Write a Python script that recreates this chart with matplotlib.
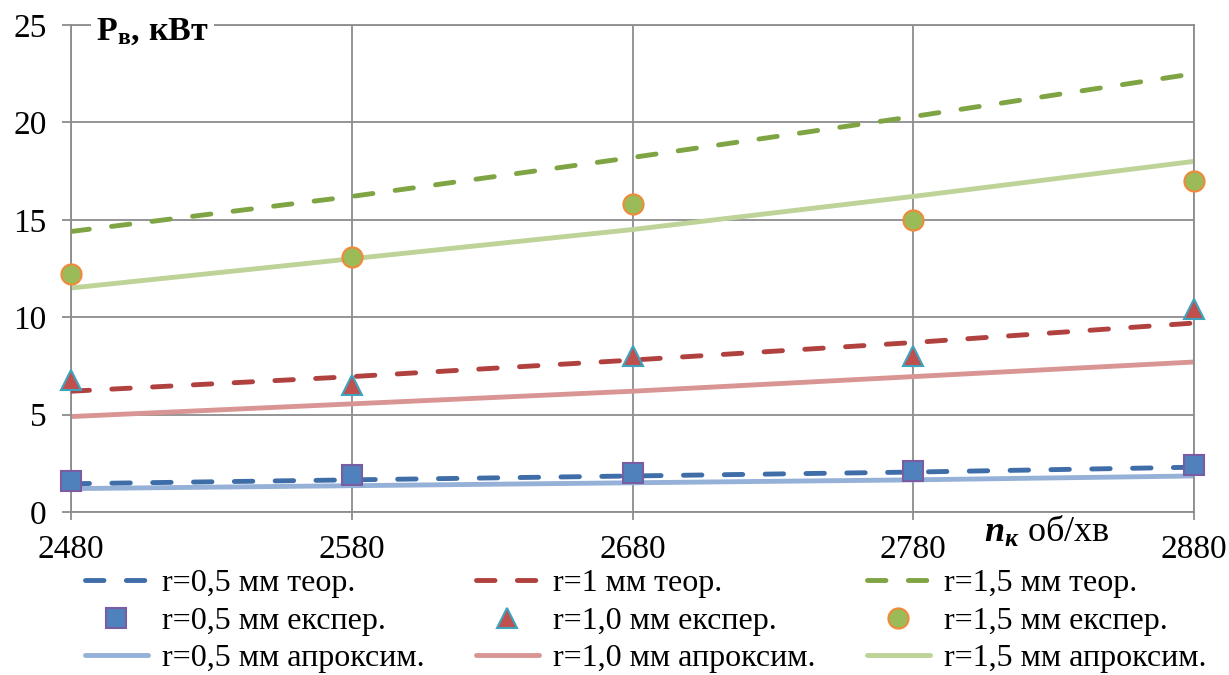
import matplotlib
matplotlib.use("Agg")
import matplotlib.pyplot as plt

plt.rcParams['font.family'] = ['Liberation Serif', 'DejaVu Serif']
plt.rcParams['mathtext.fontset'] = 'custom'
plt.rcParams['mathtext.rm'] = 'Liberation Serif'
plt.rcParams['mathtext.bf'] = 'Liberation Serif:bold'
plt.rcParams['mathtext.it'] = 'Liberation Serif:italic'
plt.rcParams['mathtext.bfit'] = 'Liberation Serif:italic:bold'

# ---- data ----
n = [2480, 2580, 2680, 2780, 2880]
teor05 = [1.45, 1.65, 1.85, 2.05, 2.3]
teor10 = [6.2, 6.95, 7.8, 8.7, 9.7]
teor15 = [14.4, 16.2, 18.2, 20.3, 22.5]
exp05 = [1.6, 1.9, 2.0, 2.1, 2.4]
exp10 = [6.8, 6.5, 8.0, 8.0, 10.4]
exp15 = [12.2, 13.1, 15.8, 15.0, 17.0]
apr05 = [1.2, 1.35, 1.5, 1.65, 1.85]
apr10 = [4.9, 5.55, 6.2, 6.95, 7.7]
apr15 = [11.5, 13.0, 14.5, 16.2, 18.0]

labels_teor = ["r=0,5 мм теор.", "r=1 мм теор.", "r=1,5 мм теор."]
labels_exp = ["r=0,5 мм експер.", "r=1,0 мм експер.", "r=1,5 мм експер."]
labels_apr = ["r=0,5 мм апроксим.", "r=1,0 мм апроксим.", "r=1,5 мм апроксим."]
yticks = [0, 5, 10, 15, 20, 25]

W, H = 1229, 675
fig = plt.figure(figsize=(W / 100, H / 100), dpi=100)
ax = fig.add_axes([71 / W, 1 - 512 / H, (1194 - 71) / W, (512 - 25) / H])

grid_c = '#8c8c8c'
lw = 3.5
dash = (3.8, 4.6)

c_teor = ['#3E6DA8', '#B0413E', '#7FA443']
c_apr = ['#95B1D8', '#D99594', '#BDD398']
m_fill = ['#4F81BD', '#C0504D', '#9BBB59']
m_edge = ['#7A5CA3', '#3FA3BE', '#F08A3A']
m_style = ['s', '^', 'o']
m_size = [14, 14.5, 14.5]

teor = [teor05, teor10, teor15]
exps = [exp05, exp10, exp15]
aprs = [apr05, apr10, apr15]

cols = []
for i in range(3):
    la, = ax.plot(n, aprs[i], color=c_apr[i], lw=lw, solid_capstyle='round',
                  zorder=2, label=labels_apr[i])
    lt, = ax.plot(n, teor[i], color=c_teor[i], lw=lw, dashes=dash,
                  dash_capstyle='round', zorder=3, label=labels_teor[i])
    le, = ax.plot(n, exps[i], linestyle='none', marker=m_style[i],
                  markersize=m_size[i], markerfacecolor=m_fill[i],
                  markeredgecolor=m_edge[i], markeredgewidth=1.5,
                  zorder=5, clip_on=False, label=labels_exp[i])
    cols.append([lt, le, la])

ax.set_xlim(2480, 2880)
ax.set_ylim(0, 25)
ax.set_xticks(n)
ax.set_yticks(yticks)
ax.grid(True, color=grid_c, lw=1.3)
for s in ax.spines.values():
    s.set_color(grid_c)
    s.set_linewidth(1.3)
ax.tick_params(axis='both', colors=grid_c, width=1.3, labelcolor='black',
               labelsize=24)
ax.tick_params(axis='y', length=6.5, pad=11)
ax.tick_params(axis='x', length=6, pad=10)
ax.set_axisbelow(True)

# axis titles
fig.text(96 / W, 1 - 40 / H, r'$\mathbf{P}_{\mathbf{в}}\mathbf{,\,кВт}$',
         fontsize=24.5, va='baseline', ha='left',
         bbox=dict(fc='white', ec='none', pad=4), zorder=10)
fig.text(984 / W, 1 - 542 / H, r'$\mathbfit{n}_{\mathbfit{к}}$ об/хв',
         fontsize=26, va='baseline', ha='left', zorder=10)

# legend: three columns
col_x = [85, 476, 867]
for i in range(3):
    fig.legend(handles=cols[i], loc='upper left',
               bbox_to_anchor=(col_x[i] / W, 1 - 569 / H),
               frameon=False, fontsize=23, handlelength=1.97,
               handletextpad=0.44, labelspacing=0.25, borderpad=0,
               borderaxespad=0, numpoints=1)

fig.savefig('out.png', dpi=100)
